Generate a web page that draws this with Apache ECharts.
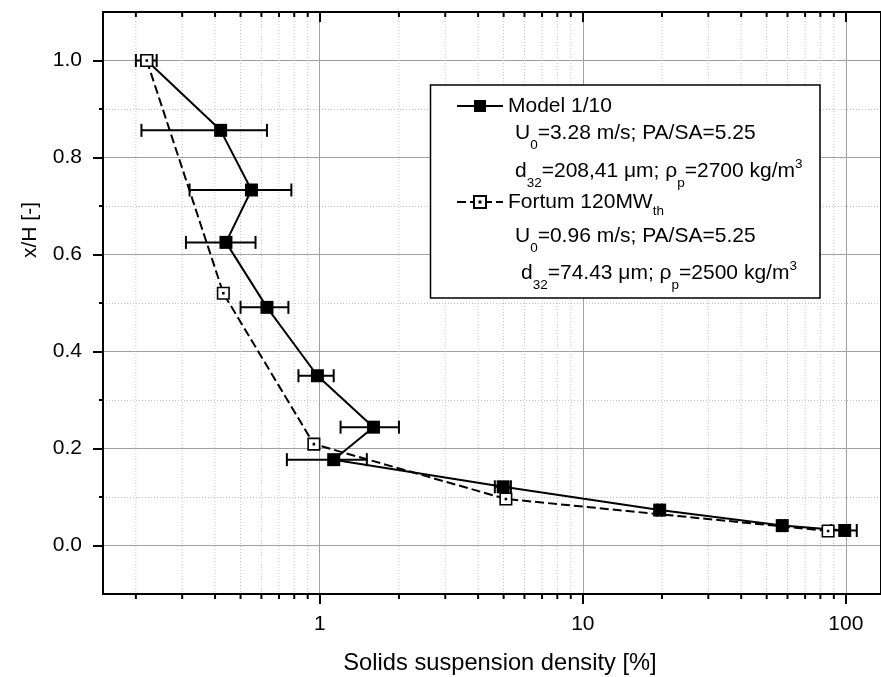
<!DOCTYPE html>
<html>
<head>
<meta charset="utf-8">
<script src="https://cdn.jsdelivr.net/npm/echarts@6/dist/echarts.min.js"></script>
<style>
html, body { margin: 0; padding: 0; background: #fff; }
#main { width: 881px; height: 677px; }
</style>
</head>
<body>
<div id="main"></div>
<script>
var FONT = 'Liberation Sans, Arial, Helvetica, sans-serif';

// Model 1/10 (x = solids suspension density %, y = x/H, err = +/- on x)
var modelX = [0.22, 0.42, 0.55, 0.44, 0.63, 0.98, 1.6, 1.13, 4.98, 19.6, 57.3, 99];
var modelY = [1.0, 0.856, 0.733, 0.625, 0.491, 0.350, 0.244, 0.177, 0.121, 0.073, 0.041, 0.031];
var modelErr = [0.02, 0.21, 0.23, 0.13, 0.13, 0.15, 0.4, 0.38, 0.35, 0.4, 1.3, 11];

// Fortum 120MWth
var fortumX = [0.22, 0.43, 0.95, 5.1, 85.6];
var fortumY = [1.0, 0.52, 0.209, 0.096, 0.030];

// ticks
var xMajorTicks = [1, 10, 100];
var xMinorTicks = [0.2, 0.3, 0.4, 0.5, 0.6, 0.7, 0.8, 0.9,
    2, 3, 4, 5, 6, 7, 8, 9,
    20, 30, 40, 50, 60, 70, 80, 90];
var yTicks = [0, 0.2, 0.4, 0.6, 0.8, 1.0];

var myChart = echarts.init(document.getElementById('main'));

function renderErrorBar(params, api) {
    var lo = api.coord([api.value(0), api.value(1)]);
    var hi = api.coord([api.value(2), api.value(1)]);
    var h = 6.5;
    var st = { stroke: '#000', lineWidth: 2 };
    return {
        type: 'group',
        children: [
            { type: 'line', shape: { x1: lo[0], y1: lo[1], x2: hi[0], y2: hi[1] }, style: st },
            { type: 'line', shape: { x1: lo[0], y1: lo[1] - h, x2: lo[0], y2: lo[1] + h }, style: st },
            { type: 'line', shape: { x1: hi[0], y1: hi[1] - h, x2: hi[0], y2: hi[1] + h }, style: st }
        ]
    };
}

// minor ticks + dotted grid of the log axis
function renderMinor(params, api) {
    var x = api.coord([api.value(0), 0])[0];
    var top = params.coordSys.y;
    var bottom = params.coordSys.y + params.coordSys.height;
    return {
        type: 'group',
        children: [
            { type: 'line', shape: { x1: x, y1: top, x2: x, y2: bottom },
              style: { stroke: '#c4c4c4', lineWidth: 1, lineDash: [1, 2] } },
            { type: 'line', shape: { x1: x, y1: bottom, x2: x, y2: bottom + 5 },
              style: { stroke: '#000', lineWidth: 2 } },
            { type: 'line', shape: { x1: x, y1: top, x2: x, y2: top + 5 },
              style: { stroke: '#000', lineWidth: 2 } }
        ]
    };
}

var richText = {
    t: { fontSize: 21, lineHeight: 24, verticalAlign: 'top', padding: [3, 0, 0, 0], fontFamily: FONT, color: '#000' },
    s: { fontSize: 13.5, lineHeight: 12, verticalAlign: 'top', padding: [19, 0, 0, 0], fontFamily: FONT, color: '#000' },
    u: { fontSize: 13.5, lineHeight: 12, verticalAlign: 'top', fontFamily: FONT, color: '#000' }
};

function paramText(x, y, str) {
    return {
        type: 'text', x: x, y: y, z: 12,
        style: { text: str, rich: richText, fill: '#000', verticalAlign: 'top', align: 'left' }
    };
}

var option = {
    animation: false,
    backgroundColor: '#fff',
    grid: { left: 103, top: 12, right: 0, bottom: 83 },
    legend: {
        data: ['Model 1/10', 'Fortum 120MW'],
        orient: 'vertical',
        left: 456,
        top: 92,
        padding: 0,
        itemWidth: 46,
        itemHeight: 15,
        itemGap: 68,
        z: 11,
        formatter: function (name) {
            if (name === 'Fortum 120MW') {
                return 'Fortum 120MW{s|th}';
            }
            return name;
        },
        textStyle: {
            fontSize: 21, lineHeight: 28, color: '#000', fontFamily: FONT,
            rich: {
                s: { fontSize: 13.5, lineHeight: 12, verticalAlign: 'top', padding: [16, 0, 0, 0], fontFamily: FONT, color: '#000' }
            }
        }
    },
    xAxis: [{
        type: 'log',
        logBase: 10,
        min: 0.15,
        max: 136,
        position: 'bottom',
        axisLine: { show: true, onZero: false, lineStyle: { color: '#000', width: 2 } },
        axisTick: { show: true, customValues: xMajorTicks, length: 10, lineStyle: { color: '#000', width: 2 } },
        axisLabel: { customValues: xMajorTicks, fontSize: 21, color: '#000', margin: 20, fontFamily: FONT },
        splitLine: { show: true, lineStyle: { color: '#a0a0a0', width: 1 } }
    }, {
        type: 'log',
        logBase: 10,
        min: 0.15,
        max: 136,
        position: 'top',
        axisLine: { show: true, onZero: false, lineStyle: { color: '#000', width: 2 } },
        axisTick: { show: true, inside: true, customValues: xMajorTicks, length: 10, lineStyle: { color: '#000', width: 2 } },
        axisLabel: { show: false },
        splitLine: { show: false }
    }],
    yAxis: [{
        type: 'value',
        min: -0.1,
        max: 1.1,
        position: 'left',
        axisLine: { show: true, onZero: false, lineStyle: { color: '#000', width: 2 } },
        axisTick: { show: true, customValues: yTicks, length: 10, lineStyle: { color: '#000', width: 2 } },
        axisLabel: {
            customValues: yTicks, fontSize: 21, color: '#000', margin: 21, fontFamily: FONT,
            formatter: function (v) { return v.toFixed(1); }
        },
        splitLine: { show: true, lineStyle: { color: '#a0a0a0', width: 1 } },
        minorTick: { show: true, splitNumber: 2, length: 4, lineStyle: { color: '#000', width: 2 } },
        minorSplitLine: { show: true, lineStyle: { color: '#c4c4c4', width: 1, type: [1, 2] } }
    }, {
        type: 'value',
        min: -0.1,
        max: 1.1,
        position: 'right',
        axisLine: { show: true, onZero: false, lineStyle: { color: '#000', width: 2 } },
        axisTick: { show: false },
        axisLabel: { show: false },
        splitLine: { show: false }
    }],
    graphic: [
        {
            type: 'rect', z: 10,
            shape: { x: 430.5, y: 85, width: 389.5, height: 213 },
            style: { fill: '#fff', stroke: '#000', lineWidth: 1.5 }
        },
        paramText(515, 119.5, '{t|U}{s|0}{t|=3.28 m/s; PA/SA=5.25}'),
        paramText(515, 157.5, '{t|d}{s|32}{t|=208,41 \u03bcm; \u03c1}{s|p}{t|=2700 kg/m}{u|3}'),
        paramText(515, 222.5, '{t|U}{s|0}{t|=0.96 m/s; PA/SA=5.25}'),
        paramText(521, 259.5, '{t|d}{s|32}{t|=74.43 \u03bcm; \u03c1}{s|p}{t|=2500 kg/m}{u|3}'),
        {
            type: 'text', x: 500, y: 663, z: 12,
            style: { text: 'Solids suspension density [%]', fontSize: 23.7, fontFamily: FONT, fill: '#000', align: 'center', verticalAlign: 'middle' }
        },
        {
            type: 'text', x: 30, y: 230, z: 12, rotation: Math.PI / 2,
            style: { text: 'x/H [-]', fontSize: 21, fontFamily: FONT, fill: '#000', align: 'center', verticalAlign: 'middle' }
        }
    ],
    series: [{
        type: 'custom',
        name: 'minor',
        silent: true,
        z: 1,
        clip: false,
        renderItem: renderMinor,
        encode: { x: 0, y: 1 },
        data: xMinorTicks.map(function (v) { return [v, 0]; })
    }, {
        type: 'custom',
        name: 'err',
        silent: true,
        z: 2,
        renderItem: renderErrorBar,
        encode: { x: [0, 2], y: 1 },
        data: modelX.map(function (x, i) { return [x - modelErr[i], modelY[i], x + modelErr[i]]; })
    }, {
        name: 'Model 1/10',
        type: 'line',
        z: 3,
        symbol: 'rect',
        symbolSize: 13,
        data: modelX.map(function (x, i) { return [x, modelY[i]]; }),
        lineStyle: { color: '#000', width: 2 },
        itemStyle: { color: '#000' }
    }, {
        name: 'Fortum 120MW',
        type: 'line',
        z: 4,
        symbol: 'path://M0,0H12V12H0ZM5.5,5.5H6.5V6.5H5.5Z',
        symbolSize: 11.5,
        data: fortumX.map(function (x, i) { return [x, fortumY[i]]; }),
        lineStyle: { color: '#000', width: 2, type: [9, 4] },
        itemStyle: { color: '#fff', borderColor: '#000', borderWidth: 1.6 }
    }]
};

myChart.setOption(option);
</script>
</body>
</html>
